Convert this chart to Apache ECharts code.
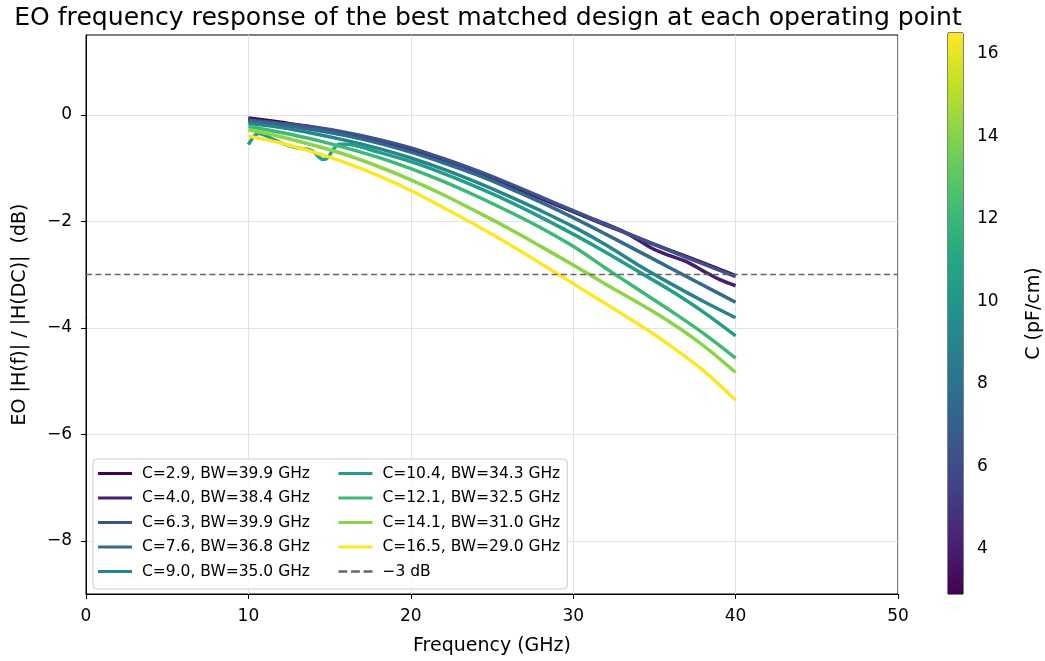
<!DOCTYPE html>
<html>
<head>
<meta charset="utf-8">
<script src="https://cdn.jsdelivr.net/npm/echarts@6/dist/echarts.min.js"></script>
<style>
  html, body { margin: 0; padding: 0; background: #fff; }
  #chart { width: 1045px; height: 661px; }
</style>
</head>
<body>
<div id="chart"></div>
<script>
// Operating points: capacitance (pF/cm) and the -3 dB bandwidth (GHz) of the best design
const capValues  = [2.9, 4.0, 6.3, 7.6, 9.0, 10.4, 12.1, 14.1, 16.5];
const bandwidths = [39.9, 38.4, 39.9, 36.8, 35.0, 34.3, 32.5, 31.0, 29.0];

// Frequency grids (GHz)
const freqGrid = [10, 12, 14, 16, 18, 20, 22, 24, 26, 28, 30, 32, 34, 36, 38, 40];
const freqC4   = [10, 12, 14, 16, 18, 20, 22, 24, 26, 28, 30, 32, 33, 34, 35, 36, 37, 38, 39, 40];
const freqC10  = [10, 10.3, 10.6, 11.0, 11.6, 12.3, 13.0, 13.5, 13.9, 14.3, 14.6, 14.9, 15.2, 15.6,
                  16, 18, 20, 22, 24, 26, 28, 30, 32, 34, 36, 38, 40];

// Normalised EO response |H(f)|/|H(DC)| in dB
const respC2_9  = [-0.06, -0.14, -0.23, -0.35, -0.49, -0.66, -0.86, -1.08, -1.32, -1.57, -1.82, -2.07, -2.31, -2.55, -2.78, -3.02];
const respC4_0  = [-0.08, -0.16, -0.25, -0.36, -0.49, -0.65, -0.85, -1.07, -1.31, -1.56, -1.81, -2.05, -2.18, -2.35, -2.53, -2.65, -2.76, -2.93, -3.09, -3.21];
const respC6_3  = [-0.10, -0.16, -0.23, -0.33, -0.46, -0.62, -0.82, -1.04, -1.28, -1.54, -1.80, -2.06, -2.31, -2.56, -2.80, -3.04];
const respC7_6  = [-0.12, -0.19, -0.28, -0.39, -0.53, -0.70, -0.90, -1.12, -1.37, -1.64, -1.93, -2.24, -2.56, -2.88, -3.20, -3.52];
const respC9_0  = [-0.16, -0.24, -0.35, -0.48, -0.63, -0.81, -1.02, -1.26, -1.52, -1.80, -2.10, -2.44, -2.82, -3.17, -3.50, -3.81];
const respC10_4 = [-0.56, -0.42, -0.35, -0.38, -0.47, -0.56, -0.62, -0.64, -0.67, -0.78, -0.84, -0.80, -0.66, -0.55,
                   -0.55, -0.70, -0.88, -1.10, -1.35, -1.62, -1.92, -2.24, -2.58, -2.94, -3.30, -3.70, -4.15];
const respC12_1 = [-0.22, -0.33, -0.46, -0.62, -0.80, -1.01, -1.25, -1.52, -1.81, -2.12, -2.47, -2.88, -3.28, -3.68, -4.10, -4.57];
const respC14_1 = [-0.28, -0.41, -0.57, -0.75, -0.97, -1.22, -1.50, -1.81, -2.13, -2.47, -2.82, -3.18, -3.53, -3.90, -4.33, -4.84];
const respC16_5 = [-0.40, -0.53, -0.70, -0.90, -1.14, -1.42, -1.74, -2.07, -2.42, -2.79, -3.17, -3.55, -3.93, -4.34, -4.80, -5.36];

const curveFreqs = [freqGrid, freqC4, freqGrid, freqGrid, freqGrid, freqC10, freqGrid, freqGrid, freqGrid];
const curveResps = [respC2_9, respC4_0, respC6_3, respC7_6, respC9_0, respC10_4, respC12_1, respC14_1, respC16_5];

const cutoffLevel = -3;
const xTicks = [0, 10, 20, 30, 40, 50];
const yTicks = [-8, -6, -4, -2, 0];
const cbarTicks = [4, 6, 8, 10, 12, 14, 16];

// viridis colormap
const VIRIDIS = ['#440154', '#482475', '#414487', '#355f8d', '#2a788e', '#21918c',
                 '#22a884', '#44bf70', '#7ad151', '#bddf26', '#fde725'];
function hexToRgb(h) { return [1, 3, 5].map(i => parseInt(h.slice(i, i + 2), 16)); }
function viridis(t) {
  t = Math.max(0, Math.min(1, t));
  const s = t * (VIRIDIS.length - 1);
  const i = Math.min(VIRIDIS.length - 2, Math.floor(s));
  const f = s - i;
  const a = hexToRgb(VIRIDIS[i]), b = hexToRgb(VIRIDIS[i + 1]);
  const c = a.map((v, k) => Math.round(v + (b[k] - v) * f));
  return 'rgb(' + c.join(',') + ')';
}
const cMin = Math.min(...capValues), cMax = Math.max(...capValues);
const FONT = 'DejaVu Sans';
const minus = v => (v < 0 ? '\u2212' + Math.abs(v) : String(v));

// legend: two columns of five rows; first-column labels get extra right padding
const ROWS_PER_COL = 5;
const legendText = (idx) => ({ padding: idx < ROWS_PER_COL ? [0, 20, 0, 5] : [0, 0, 0, 5] });

const series = [];
const legendData = [];
capValues.forEach((c, i) => {
  const name = 'C=' + c.toFixed(1) + ', BW=' + bandwidths[i].toFixed(1) + ' GHz';
  legendData.push({ name: name, icon: 'rect', textStyle: legendText(i) });
  const col = viridis((c - cMin) / (cMax - cMin));
  series.push({
    name: name,
    type: 'line',
    xAxisIndex: 0, yAxisIndex: 0,
    data: curveFreqs[i].map((f, k) => [f, curveResps[i][k]]),
    symbol: 'none', showSymbol: false,
    smooth: 0.35,
    lineStyle: { width: 3.5, color: col },
    itemStyle: { color: col },
    emphasis: { disabled: true },
    z: 2 + i
  });
});
// dashed reference level
legendData.push({ name: '\u22123 dB', icon: 'path://M0,0h7v2h-7z M10,0h7v2h-7z M20,0h7v2h-7z', textStyle: legendText(capValues.length) });
series.push({
  name: '\u22123 dB',
  type: 'line',
  xAxisIndex: 0, yAxisIndex: 0,
  data: [[xTicks[0], cutoffLevel], [xTicks[xTicks.length - 1], cutoffLevel]],
  symbol: 'none', showSymbol: false,
  lineStyle: { width: 1.5, color: '#666666', type: [6, 3.5] },
  itemStyle: { color: '#666666' },
  emphasis: { disabled: true },
  z: 20
});

// colour bar drawn on its own cartesian grid
const gradStops = VIRIDIS.map((c, i) => ({ offset: i / (VIRIDIS.length - 1), color: c }));
series.push({
  type: 'custom',
  xAxisIndex: 1, yAxisIndex: 1,
  data: [[0, cMin]],
  silent: true,
  renderItem: function (params, api) {
    const p0 = api.coord([0, cMax]);
    const p1 = api.coord([1, cMin]);
    return {
      type: 'rect',
      shape: { x: p0[0], y: p0[1], width: p1[0] - p0[0], height: p1[1] - p0[1] },
      style: { fill: new echarts.graphic.LinearGradient(0, 1, 0, 0, gradStops) }
    };
  }
});

const tickText = { color: '#000', fontFamily: FONT, fontSize: 17 };
const labelText = { color: '#000', fontFamily: FONT, fontSize: 19 };

const option = {
  animation: false,
  backgroundColor: '#fff',
  title: {
    text: 'EO frequency response of the best matched design at each operating point',
    left: 483, top: 1, textAlign: 'center',
    textStyle: { color: '#000', fontFamily: FONT, fontSize: 25.1, fontWeight: 'normal' }
  },
  grid: [
    { left: 86, top: 35, width: 812, height: 560, show: true, borderColor: '#000', borderWidth: 1, backgroundColor: 'transparent' },
    { left: 948, top: 33, width: 29, height: 561, show: true, borderColor: '#000', borderWidth: 1, backgroundColor: 'transparent' }
  ],
  xAxis: [
    {
      gridIndex: 0, type: 'value', min: 0, max: 50, interval: 10,
      name: 'Frequency (GHz)', nameLocation: 'middle', nameGap: 43,
      nameTextStyle: labelText,
      axisLine: { show: true, onZero: false, lineStyle: { color: '#000', width: 1 } },
      axisTick: { show: true, length: 5, lineStyle: { color: '#000' } },
      axisLabel: Object.assign({ margin: 14 }, tickText),
      splitLine: { show: true, lineStyle: { color: '#e3e3e3', width: 1 } }
    },
    { gridIndex: 1, type: 'value', min: 0, max: 1, show: false }
  ],
  yAxis: [
    {
      gridIndex: 0, type: 'value', min: -9, max: 1.5,
      name: 'EO |H(f)| / |H(DC)|  (dB)', nameLocation: 'middle', nameGap: 56, nameRotate: 90,
      nameTextStyle: labelText,
      axisLine: { show: true, onZero: false, lineStyle: { color: '#000', width: 1 } },
      axisTick: { show: true, length: 5, customValues: yTicks, lineStyle: { color: '#000' } },
      axisLabel: Object.assign({ margin: 14, customValues: yTicks, formatter: minus }, tickText),
      splitLine: { show: true, lineStyle: { color: '#e3e3e3', width: 1 } }
    },
    {
      gridIndex: 1, type: 'value', min: cMin, max: cMax, position: 'right',
      name: 'C (pF/cm)', nameLocation: 'middle', nameGap: 62, nameRotate: 90,
      nameTextStyle: labelText,
      axisLine: { show: false },
      axisTick: { show: true, length: 5, inside: false, customValues: cbarTicks, lineStyle: { color: '#000' } },
      axisLabel: Object.assign({ margin: 14, customValues: cbarTicks }, tickText),
      splitLine: { show: false }
    }
  ],
  legend: {
    data: legendData,
    orient: 'vertical',
    left: 93, top: 459, height: 118,
    itemWidth: 34, itemHeight: 3.2, itemGap: 8.5,
    padding: [6.5, 7, 9.5, 5],
    backgroundColor: 'rgba(255,255,255,0.85)',
    borderColor: '#cccccc', borderWidth: 1, borderRadius: 4,
    selectedMode: false,
    textStyle: { color: '#000', fontFamily: FONT, fontSize: 15.5, lineHeight: 15 }
  },
  series: series
};

const chart = echarts.init(document.getElementById('chart'), null, { renderer: 'canvas' });
chart.setOption(option);
</script>
</body>
</html>
